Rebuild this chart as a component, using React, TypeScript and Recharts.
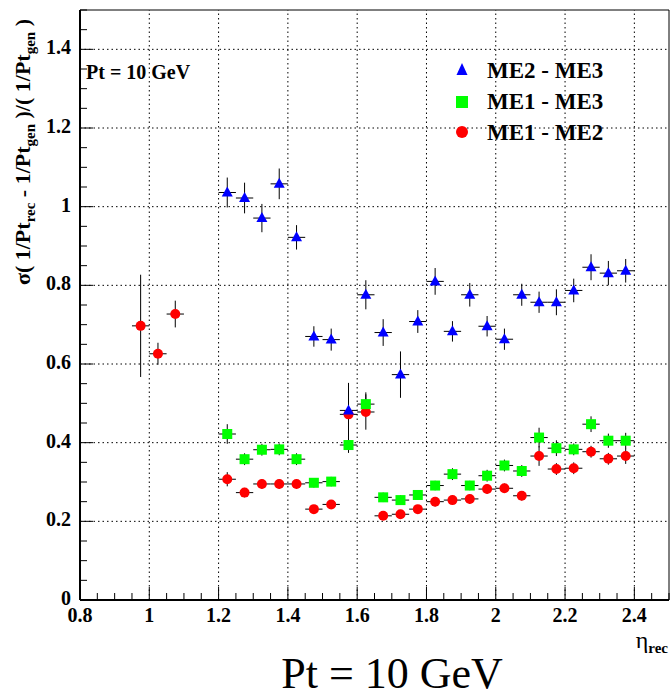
import { ScatterChart, Scatter, XAxis, YAxis, ErrorBar, ReferenceLine, ReferenceArea } from 'recharts';

// eta bin centres (bin width 0.05)
const etaLow = [0.975, 1.025, 1.075];
const etaBins = [
  1.225, 1.275, 1.325, 1.375, 1.425, 1.475, 1.525, 1.575, 1.625, 1.675, 1.725, 1.775,
  1.825, 1.875, 1.925, 1.975, 2.025, 2.075, 2.125, 2.175, 2.225, 2.275, 2.325, 2.375,
];
const etaHalfWidth = 0.025;

// ME2 - ME3
const me23 = [
  1.036, 1.022, 0.971, 1.058, 0.922, 0.67, 0.662, 0.482, 0.776, 0.68, 0.573, 0.708,
  0.81, 0.683, 0.776, 0.696, 0.663, 0.776, 0.757, 0.757, 0.787, 0.846, 0.831, 0.837,
];
const me23Err = [
  0.038, 0.039, 0.036, 0.039, 0.031, 0.026, 0.028, 0.07, 0.037, 0.034, 0.059, 0.029,
  0.034, 0.026, 0.03, 0.026, 0.027, 0.028, 0.027, 0.033, 0.03, 0.033, 0.031, 0.03,
];

// ME1 - ME3
const me13 = [
  0.422, 0.358, 0.382, 0.383, 0.358, 0.298, 0.301, 0.394, 0.498, 0.261, 0.254, 0.267,
  0.291, 0.32, 0.291, 0.316, 0.342, 0.328, 0.413, 0.386, 0.383, 0.447, 0.405, 0.405,
];
const me13Err = [
  0.025, 0.015, 0.015, 0.015, 0.015, 0.012, 0.012, 0.02, 0.03, 0.012, 0.012, 0.012,
  0.012, 0.015, 0.012, 0.015, 0.015, 0.015, 0.025, 0.02, 0.015, 0.02, 0.018, 0.02,
];

// ME1 - ME2
const me12Low = [0.697, 0.626, 0.727];
const me12LowErr = [0.13, 0.028, 0.034];
const me12 = [
  0.307, 0.273, 0.295, 0.295, 0.295, 0.231, 0.243, 0.472, 0.478, 0.214, 0.218, 0.231,
  0.25, 0.254, 0.257, 0.282, 0.284, 0.265, 0.366, 0.333, 0.335, 0.377, 0.359, 0.366,
];
const me12Err = [
  0.018, 0.012, 0.012, 0.012, 0.012, 0.01, 0.01, 0.03, 0.045, 0.01, 0.01, 0.01,
  0.012, 0.012, 0.012, 0.012, 0.012, 0.012, 0.025, 0.015, 0.015, 0.015, 0.015, 0.02,
];

const xMajor = [0.8, 1, 1.2, 1.4, 1.6, 1.8, 2, 2.2, 2.4];
const yMajor = [0, 0.2, 0.4, 0.6, 0.8, 1, 1.2, 1.4];
const xTicks = Array.from({ length: 35 }, (_, i) => Math.round((0.8 + i * 0.05) * 1000) / 1000);
const yTicks = Array.from({ length: 31 }, (_, i) => Math.round(i * 0.05 * 1000) / 1000);

const toPoints = (xs: number[], ys: number[], es: number[]) =>
  xs.map((x, i) => ({ x, y: ys[i], ey: es[i], ex: etaHalfWidth }));

const redData = [...toPoints(etaLow, me12Low, me12LowErr), ...toPoints(etaBins, me12, me12Err)];
const greenData = toPoints(etaBins, me13, me13Err);
const blueData = toPoints(etaBins, me23, me23Err);

const serif = { fontFamily: 'Liberation Serif, Times New Roman, serif' };
const bold = { ...serif, fontWeight: 700 };

const isMajor = (v: number, list: number[]) => list.some((m) => Math.abs(m - v) < 1e-6);

const XTick = (props: any) => {
  const { x, y, payload } = props;
  const major = isMajor(payload.value, xMajor);
  return (
    <g>
      <line x1={x} x2={x} y1={y} y2={y - (major ? 13 : 7)} stroke="#000" strokeWidth={1} />
      {major && (
        <text x={x} y={y + 22} textAnchor="middle" style={bold} fontSize={20} fill="#000">
          {String(payload.value)}
        </text>
      )}
    </g>
  );
};

const YTick = (props: any) => {
  const { x, y, payload } = props;
  const major = isMajor(payload.value, yMajor);
  return (
    <g>
      <line x1={x} x2={x + (major ? 13 : 7)} y1={y} y2={y} stroke="#000" strokeWidth={1} />
      {major && (
        <text x={x - 9} y={y + 5} textAnchor="end" style={bold} fontSize={20} fill="#000">
          {String(payload.value)}
        </text>
      )}
    </g>
  );
};

const Circle = (p: any) => <circle cx={p.cx} cy={p.cy} r={5} fill="#ff0000" />;
const Square = (p: any) => <rect x={p.cx - 5} y={p.cy - 5} width={10} height={10} fill="#00ff00" />;
const Triangle = (p: any) => (
  <polygon points={`${p.cx},${p.cy - 6} ${p.cx - 5.5},${p.cy + 4} ${p.cx + 5.5},${p.cy + 4}`} fill="#0000ff" />
);

export default function App() {
  return (
    <div style={{ position: 'absolute', left: 0, top: 0, width: 670, height: 698, background: '#fff' }}>
      <ScatterChart width={670} height={698} margin={{ top: 10, right: 1, left: 0, bottom: 0 }}>
        <XAxis
          type="number"
          dataKey="x"
          domain={[0.8, 2.5]}
          ticks={xTicks}
          interval={0}
          tickSize={0}
          tickMargin={0}
          tickLine={false}
          axisLine={{ stroke: '#000', strokeWidth: 2 }}
          tick={XTick}
          height={98}
          allowDataOverflow
        />
        <YAxis
          type="number"
          dataKey="y"
          domain={[0, 1.5]}
          ticks={yTicks}
          interval={0}
          tickSize={0}
          tickMargin={0}
          tickLine={false}
          axisLine={{ stroke: '#000', strokeWidth: 2 }}
          tick={YTick}
          width={80}
          allowDataOverflow
        />
        <ReferenceArea x1={0.8} x2={2.5} y1={0} y2={1.5} fill="none" stroke="#000" strokeWidth={1} />
        {xMajor.slice(1).map((v) => (
          <ReferenceLine key={'gx' + v} x={v} stroke="#000" strokeDasharray="1.5 3" />
        ))}
        {yMajor.slice(1).map((v) => (
          <ReferenceLine key={'gy' + v} y={v} stroke="#000" strokeDasharray="1.5 3" />
        ))}
        <Scatter name="ME1 - ME2" data={redData} shape={Circle} isAnimationActive={false}>
          <ErrorBar dataKey="ey" direction="y" width={0} stroke="#000" strokeWidth={1} />
          <ErrorBar dataKey="ex" direction="x" width={0} stroke="#000" strokeWidth={1} />
        </Scatter>
        <Scatter name="ME1 - ME3" data={greenData} shape={Square} isAnimationActive={false}>
          <ErrorBar dataKey="ey" direction="y" width={0} stroke="#000" strokeWidth={1} />
          <ErrorBar dataKey="ex" direction="x" width={0} stroke="#000" strokeWidth={1} />
        </Scatter>
        <Scatter name="ME2 - ME3" data={blueData} shape={Triangle} isAnimationActive={false}>
          <ErrorBar dataKey="ey" direction="y" width={0} stroke="#000" strokeWidth={1} />
          <ErrorBar dataKey="ex" direction="x" width={0} stroke="#000" strokeWidth={1} />
        </Scatter>
      </ScatterChart>

      <svg width={670} height={698} style={{ position: 'absolute', left: 0, top: 0, pointerEvents: 'none' }}>
        {/* y axis title */}
        <text transform="rotate(-90)" x={-152} y={30} textAnchor="middle" style={bold} fontSize={22} fill="#000">
          <tspan>{'σ( 1/Pt'}</tspan>
          <tspan dy={5} fontSize={15}>{'rec'}</tspan>
          <tspan dy={-5}>{' - 1/Pt'}</tspan>
          <tspan dy={5} fontSize={15}>{'gen'}</tspan>
          <tspan dy={-5}>{' )/( 1/Pt'}</tspan>
          <tspan dy={5} fontSize={15}>{'gen'}</tspan>
          <tspan dy={-5}>{' )'}</tspan>
        </text>

        {/* x axis title */}
        <text x={668} y={648} textAnchor="end" style={serif} fill="#000">
          <tspan fontSize={24}>{'η'}</tspan>
          <tspan dy={5} fontSize={15} fontWeight={700}>{'rec'}</tspan>
        </text>

        <text x={86} y={79} style={bold} fontSize={20} fill="#000">
          Pt = 10 GeV
        </text>

        {/* legend */}
        <polygon points="462,63 456.5,75 467.5,75" fill="#0000ff" />
        <text x={487} y={78} style={bold} fontSize={23} fill="#000">ME2 - ME3</text>
        <rect x={456} y={96} width={12} height={12} fill="#00ff00" />
        <text x={487} y={109} style={bold} fontSize={23} fill="#000">ME1 - ME3</text>
        <circle cx={462} cy={132} r={6} fill="#ff0000" />
        <text x={487} y={140} style={bold} fontSize={23} fill="#000">ME1 - ME2</text>

        {/* caption */}
        <text x={392} y={688} textAnchor="middle" style={serif} fontSize={44} fill="#000">
          Pt = 10 GeV
        </text>
      </svg>
    </div>
  );
}
